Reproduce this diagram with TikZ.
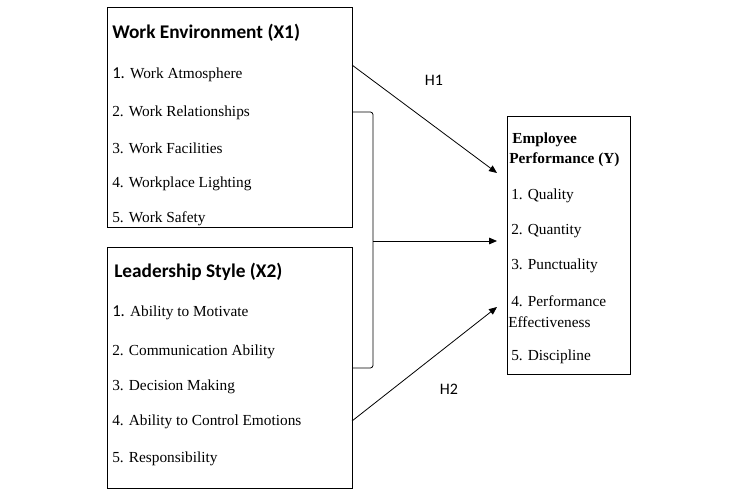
\documentclass[tikz,border=0pt]{standalone}
\usepackage{fontspec}
\setmainfont{Liberation Serif}
\newfontfamily\calib{Carlito}
\usetikzlibrary{arrows.meta}
\begin{document}
\begin{tikzpicture}[x=0.75pt,y=-0.75pt,
  box/.style={draw=black,line width=0.75pt},
  ttl/.style={anchor=west,inner sep=0pt,font=\calib\bfseries\fontsize{14.5pt}{16pt}\selectfont},
  itm/.style={anchor=west,inner sep=0pt,font=\fontsize{11.5pt}{13pt}\selectfont},
  bitm/.style={anchor=west,inner sep=0pt,font=\bfseries\fontsize{11.5pt}{13pt}\selectfont},
  hlab/.style={anchor=center,inner sep=0pt,font=\calib\fontsize{12pt}{14pt}\selectfont},
  arr/.style={line width=0.6pt,-{Triangle[length=6pt,width=5pt]}}]
\useasboundingbox (0,0) rectangle (749,495);
% boxes
\draw[box] (107,8) rectangle (352,228);
\draw[box] (107,248) rectangle (352,488);
\draw[box] (507,117) rectangle (630,374);
\coordinate (x1r) at (352,65);
\coordinate (x2r) at (352,421);
% X1 texts
\node[ttl] (t1) at (112,33) {Work Environment (X1)};
\node[itm] (a1) at (112,75) {{\calib\fontsize{12.5pt}{14pt}\selectfont 1.} Work Atmosphere};
\node[itm] (a2) at (112,113) {2. Work Relationships};
\node[itm] (a3) at (112,148) {3. Work Facilities};
\node[itm] (a4) at (112,184) {4. Workplace Lighting};
\node[itm] (a5) at (112,219) {5. Work Safety};
% X2 texts
\node[ttl] (t2) at (114,272) {Leadership Style (X2)};
\node[itm] (b1) at (112,313) {{\calib\fontsize{12.5pt}{14pt}\selectfont 1.} Ability to Motivate};
\node[itm] (b2) at (112,352) {2. Communication Ability};
\node[itm] (b3) at (112,387) {3. Decision Making};
\node[itm] (b4) at (112,422) {4. Ability to Control Emotions};
\node[itm] (b5) at (112,459) {5. Responsibility};
% Y texts
\node[bitm] (y0) at (512,140) {Employee};
\node[bitm] (y0b) at (509,160) {Performance (Y)};
\node[itm] (y1) at (511,196) {1. Quality};
\node[itm] (y2) at (511,231) {2. Quantity};
\node[itm] (y3) at (511,266) {3. Punctuality};
\node[itm] (y4) at (511,301) {4. Performance};
\node[itm] (y4b) at (508,322) {Effectiveness};
\node[itm] (y5) at (511,357) {5. Discipline};
% bracket
\draw[line width=0.6pt,rounded corners=2pt] (352,112) -- (373,112) -- (373,368) -- (352,368);
\coordinate (bm) at (373,241);
\coordinate (e1) at (497,173);
\coordinate (e2) at (497,241);
\coordinate (e3) at (497,307);
\draw[arr] (x1r) -- (e1);
\draw[arr] (bm) -- (e2);
\draw[arr] (x2r) -- (e3);
\node[hlab] (h1) at (434,80) {H1};
\node[hlab] (h2) at (449,389) {H2};
\end{tikzpicture}
\end{document}
